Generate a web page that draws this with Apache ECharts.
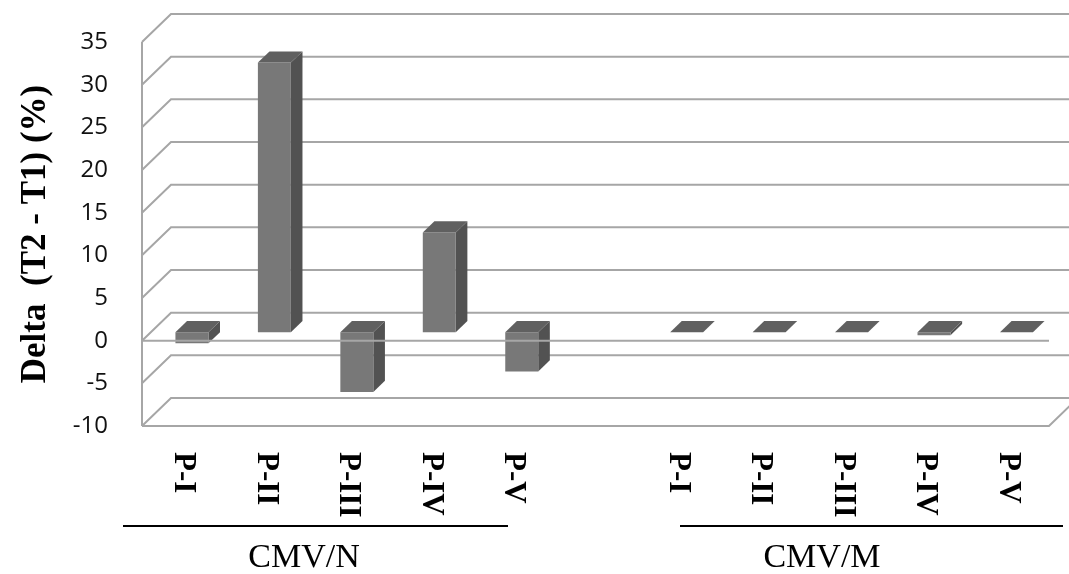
<!DOCTYPE html>
<html>
<head>
<meta charset="utf-8">
<script src="https://cdn.jsdelivr.net/npm/echarts@6/dist/echarts.min.js"></script>
<style>
  html, body { margin: 0; padding: 0; background: #ffffff; }
  #chart { width: 1069px; height: 574px; }
</style>
</head>
<body>
<div id="chart"></div>
<script>
// Periods sampled within each group
const periods = ['P-I', 'P-II', 'P-III', 'P-IV', 'P-V'];
const groupNames = ['CMV/N', 'CMV/M'];
// Delta (T2 - T1) in percent per period
const deltaN = [-1.3, 31.6, -7.0, 11.7, -4.6];
const deltaM = [0, 0, 0, -0.35, 0];
// Value axis ticks
const yMin = -10, yMax = 35, yStep = 5;

// Category slots: group N, an empty spacer slot, group M
const categories = periods.concat([''], periods);
const barValues = deltaN.concat([null], deltaM);
const barData = [];
barValues.forEach(function (v, i) {
  if (v !== null) barData.push([i, v]);
});
const tickData = [];
for (let v = yMin; v <= yMax; v += yStep) tickData.push([0, v]);

// Oblique depth of the plot box and where the columns sit within it
const DEPTH = [29, -28];
const BAR_FRONT = 0.3, BAR_BACK = 0.7, BAR_WIDTH = 0.4;
const GRID_COLOR = '#a6a6a6';

function wallItem(params, api) {
  const cs = params.coordSys;
  const v = api.value(1);
  const y = api.coord([0, v])[1];
  const left = cs.x, right = cs.x + cs.width;
  const style = { stroke: GRID_COLOR, lineWidth: 2, fill: null };
  const children = [
    { type: 'polyline', shape: { points: [[left, y], [left + DEPTH[0], y + DEPTH[1]], [right + DEPTH[0] + 40, y + DEPTH[1]]] }, style: style }
  ];
  if (params.dataIndex === 0) {
    children.push({ type: 'line', shape: { x1: left, y1: cs.y, x2: left, y2: cs.y + cs.height }, style: style });
    children.push({ type: 'polyline', shape: { points: [[left, y], [right, y], [right + DEPTH[0], y + DEPTH[1]]] }, style: style });
  }
  return { type: 'group', children: children };
}

function barItem(params, api) {
  const idx = api.value(0), v = api.value(1);
  const base = api.coord([idx, 0]);
  const tip = api.coord([idx, v]);
  const band = api.size([1, 0])[0];
  const w = band * BAR_WIDTH;
  const fx = DEPTH[0] * BAR_FRONT, fy = DEPTH[1] * BAR_FRONT;
  const dx = DEPTH[0] * (BAR_BACK - BAR_FRONT), dy = DEPTH[1] * (BAR_BACK - BAR_FRONT);
  const x0 = base[0] - w / 2 + fx, x1 = x0 + w;
  const yTop = Math.min(base[1], tip[1]) + fy;
  const yBot = Math.max(base[1], tip[1]) + fy;
  return {
    type: 'group',
    children: [
      { type: 'polygon', shape: { points: [[x1, yTop], [x1 + dx, yTop + dy], [x1 + dx, yBot + dy], [x1, yBot]] }, style: { fill: '#525252' } },
      { type: 'rect', shape: { x: x0, y: yTop, width: w, height: yBot - yTop }, style: { fill: '#787878' } },
      { type: 'polygon', shape: { points: [[x0, yTop], [x1, yTop], [x1 + dx, yTop + dy], [x0 + dx, yTop + dy]] }, style: { fill: '#606060' } }
    ]
  };
}

function zeroLineItem(params, api) {
  const cs = params.coordSys;
  const y = api.coord([0, 0])[1];
  return { type: 'line', shape: { x1: cs.x, y1: y, x2: cs.x + cs.width, y2: y }, style: { stroke: GRID_COLOR, lineWidth: 2 } };
}

const chart = echarts.init(document.getElementById('chart'), null, { renderer: 'canvas' });
chart.setOption({
  animation: false,
  backgroundColor: '#ffffff',
  grid: { left: 142, right: 20, top: 42, bottom: 148, containLabel: false, outerBoundsMode: 'none' },
  xAxis: {
    type: 'category',
    data: categories,
    boundaryGap: true,
    axisLine: { show: false },
    axisTick: { show: false },
    splitLine: { show: false },
    axisLabel: {
      interval: 0,
      rotate: -90,
      margin: 26,
      color: '#000000',
      fontFamily: '"Liberation Serif", "Times New Roman", serif',
      fontWeight: 'bold',
      fontSize: 31
    }
  },
  yAxis: {
    type: 'value',
    min: yMin,
    max: yMax,
    interval: yStep,
    axisLine: { show: false },
    axisTick: { show: false },
    splitLine: { show: false },
    axisLabel: {
      margin: 34,
      color: '#111111',
      fontFamily: '"Open Sans", sans-serif',
      fontSize: 24
    },
    name: 'Delta  (T2 - T1) (%)',
    nameLocation: 'middle',
    nameRotate: 90,
    nameGap: 89,
    nameTextStyle: {
      color: '#000000',
      fontFamily: '"Liberation Serif", "Times New Roman", serif',
      fontWeight: 'bold',
      fontSize: 35
    }
  },
  series: [
    { type: 'custom', name: 'walls', data: tickData, renderItem: wallItem, z: 1, silent: true },
    { type: 'custom', name: 'Delta', data: barData, renderItem: barItem, z: 2, encode: { x: 0, y: 1 } },
    { type: 'custom', name: 'zero', data: [[0, 0]], renderItem: zeroLineItem, z: 3, silent: true }
  ],
  graphic: [
    { type: 'line', shape: { x1: 123, y1: 526, x2: 508, y2: 526 }, style: { stroke: '#000000', lineWidth: 2 } },
    { type: 'line', shape: { x1: 680, y1: 526, x2: 1063, y2: 526 }, style: { stroke: '#000000', lineWidth: 2 } },
    { type: 'text', x: 304, y: 558, style: { text: groupNames[0], fill: '#000000', font: '34px "Liberation Serif", "Times New Roman", serif', align: 'center', verticalAlign: 'middle' } },
    { type: 'text', x: 822, y: 558, style: { text: groupNames[1], fill: '#000000', font: '34px "Liberation Serif", "Times New Roman", serif', align: 'center', verticalAlign: 'middle' } }
  ]
});
</script>
</body>
</html>
